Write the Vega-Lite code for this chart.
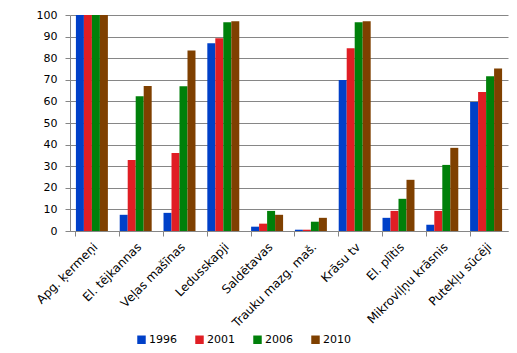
{
  "$schema": "https://vega.github.io/schema/vega-lite/v6.json",
  "autosize": "none",
  "width": 438,
  "height": 216,
  "padding": {"left": 70, "top": 15, "right": 9, "bottom": 122},
  "background": "white",
  "config": {
    "view": {"stroke": null},
    "font": "DejaVu Sans",
    "axis": {"labelFont": "DejaVu Sans", "labelFontSize": 11, "labelColor": "#000000", "domainColor": "#868686", "tickColor": "#868686", "gridColor": "#868686", "gridOpacity": 1}
  },
  "data": {
    "values": [
      {"cat": "Apg. ķermeņi", "year": "1996", "v": 100},
      {"cat": "Apg. ķermeņi", "year": "2001", "v": 100},
      {"cat": "Apg. ķermeņi", "year": "2006", "v": 100},
      {"cat": "Apg. ķermeņi", "year": "2010", "v": 100},
      {"cat": "El. tējkannas", "year": "1996", "v": 7.5},
      {"cat": "El. tējkannas", "year": "2001", "v": 32.9},
      {"cat": "El. tējkannas", "year": "2006", "v": 62.4},
      {"cat": "El. tējkannas", "year": "2010", "v": 67.1},
      {"cat": "Veļas mašīnas", "year": "1996", "v": 8.4},
      {"cat": "Veļas mašīnas", "year": "2001", "v": 36.1},
      {"cat": "Veļas mašīnas", "year": "2006", "v": 67},
      {"cat": "Veļas mašīnas", "year": "2010", "v": 83.6},
      {"cat": "Ledusskapji", "year": "1996", "v": 86.9},
      {"cat": "Ledusskapji", "year": "2001", "v": 89.2},
      {"cat": "Ledusskapji", "year": "2006", "v": 96.6},
      {"cat": "Ledusskapji", "year": "2010", "v": 97.1},
      {"cat": "Saldētavas", "year": "1996", "v": 2},
      {"cat": "Saldētavas", "year": "2001", "v": 3.4},
      {"cat": "Saldētavas", "year": "2006", "v": 9.3},
      {"cat": "Saldētavas", "year": "2010", "v": 7.5},
      {"cat": "Trauku mazg. maš.", "year": "1996", "v": 0.6},
      {"cat": "Trauku mazg. maš.", "year": "2001", "v": 0.6},
      {"cat": "Trauku mazg. maš.", "year": "2006", "v": 4.3},
      {"cat": "Trauku mazg. maš.", "year": "2010", "v": 6.1},
      {"cat": "Krāsu tv", "year": "1996", "v": 69.9},
      {"cat": "Krāsu tv", "year": "2001", "v": 84.6},
      {"cat": "Krāsu tv", "year": "2006", "v": 96.6},
      {"cat": "Krāsu tv", "year": "2010", "v": 97.1},
      {"cat": "El. plītis", "year": "1996", "v": 6.1},
      {"cat": "El. plītis", "year": "2001", "v": 9.3},
      {"cat": "El. plītis", "year": "2006", "v": 14.9},
      {"cat": "El. plītis", "year": "2010", "v": 23.7},
      {"cat": "Mikroviļņu krāsnis", "year": "1996", "v": 2.9},
      {"cat": "Mikroviļņu krāsnis", "year": "2001", "v": 9.3},
      {"cat": "Mikroviļņu krāsnis", "year": "2006", "v": 30.6},
      {"cat": "Mikroviļņu krāsnis", "year": "2010", "v": 38.5},
      {"cat": "Putekļu sūcēji", "year": "1996", "v": 59.7},
      {"cat": "Putekļu sūcēji", "year": "2001", "v": 64.3},
      {"cat": "Putekļu sūcēji", "year": "2006", "v": 71.7},
      {"cat": "Putekļu sūcēji", "year": "2010", "v": 75.2}
    ]
  },
  "mark": {"type": "bar"},
  "encoding": {
    "x": {
      "field": "cat", "type": "nominal", "sort": null,
      "scale": {"paddingInner": 0.27, "paddingOuter": 0.135},
      "axis": {"title": null, "labelAngle": -45, "labelAlign": "right", "labelBaseline": "top", "labelFontSize": 12, "bandPosition": 0, "tickSize": 5, "labelPadding": 5, "grid": false}
    },
    "xOffset": {"field": "year", "type": "nominal", "scale": {"paddingInner": 0, "paddingOuter": 0}},
    "y": {
      "field": "v", "type": "quantitative",
      "scale": {"domain": [0, 100], "nice": false},
      "axis": {"title": null, "values": [0,10,20,30,40,50,60,70,80,90,100], "labelOverlap": false, "tickSize": 5, "labelPadding": 8, "grid": true}
    },
    "color": {
      "field": "year", "type": "nominal",
      "scale": {"domain": ["1996", "2001", "2006", "2010"], "range": ["#0040C8", "#E01E24", "#00800A", "#7F4000"]},
      "legend": {"title": null, "orient": "none", "direction": "horizontal", "legendX": 66, "legendY": 319, "symbolType": "square", "symbolSize": 72, "symbolStrokeWidth": 0, "labelFontSize": 11, "labelFont": "DejaVu Sans", "labelOffset": 2, "columnPadding": 17}
    }
  }
}
